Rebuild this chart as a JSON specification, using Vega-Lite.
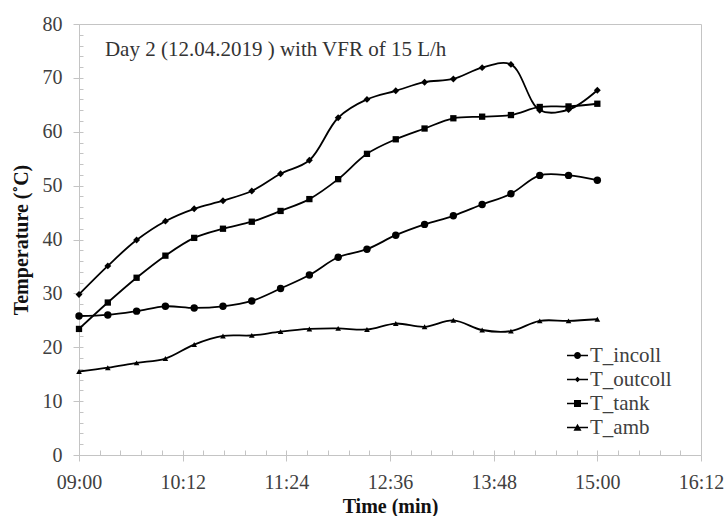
{
  "$schema": "https://vega.github.io/schema/vega-lite/v6.json",
  "width": 622,
  "height": 431,
  "autosize": {"type": "none"},
  "padding": {"left": 79, "top": 24, "right": 25, "bottom": 61},
  "background": "white",
  "config": {
    "view": {"stroke": "#c4c4c4", "strokeWidth": 1},
    "axis": {
      "labelFont": "Liberation Serif",
      "labelFontSize": 20,
      "labelFontWeight": "normal",
      "labelColor": "#404040",
      "titleFont": "Liberation Serif",
      "titleFontSize": 20,
      "titleFontWeight": "bold",
      "titleColor": "#111111",
      "domainColor": "#c4c4c4",
      "tickColor": "#c4c4c4",
      "grid": false
    }
  },
  "data": {
    "values": [
      {"time": "2019-04-12T09:00", "series": "T_incoll", "value": 25.8},
      {"time": "2019-04-12T09:20", "series": "T_incoll", "value": 26.0},
      {"time": "2019-04-12T09:40", "series": "T_incoll", "value": 26.7},
      {"time": "2019-04-12T10:00", "series": "T_incoll", "value": 27.6},
      {"time": "2019-04-12T10:20", "series": "T_incoll", "value": 27.3},
      {"time": "2019-04-12T10:40", "series": "T_incoll", "value": 27.6},
      {"time": "2019-04-12T11:00", "series": "T_incoll", "value": 28.6},
      {"time": "2019-04-12T11:20", "series": "T_incoll", "value": 30.9},
      {"time": "2019-04-12T11:40", "series": "T_incoll", "value": 33.4},
      {"time": "2019-04-12T12:00", "series": "T_incoll", "value": 36.7},
      {"time": "2019-04-12T12:20", "series": "T_incoll", "value": 38.2},
      {"time": "2019-04-12T12:40", "series": "T_incoll", "value": 40.8},
      {"time": "2019-04-12T13:00", "series": "T_incoll", "value": 42.8},
      {"time": "2019-04-12T13:20", "series": "T_incoll", "value": 44.4},
      {"time": "2019-04-12T13:40", "series": "T_incoll", "value": 46.5},
      {"time": "2019-04-12T14:00", "series": "T_incoll", "value": 48.5},
      {"time": "2019-04-12T14:20", "series": "T_incoll", "value": 51.9},
      {"time": "2019-04-12T14:40", "series": "T_incoll", "value": 51.9},
      {"time": "2019-04-12T15:00", "series": "T_incoll", "value": 51.0},
      {"time": "2019-04-12T09:00", "series": "T_outcoll", "value": 29.8},
      {"time": "2019-04-12T09:20", "series": "T_outcoll", "value": 35.1},
      {"time": "2019-04-12T09:40", "series": "T_outcoll", "value": 39.9},
      {"time": "2019-04-12T10:00", "series": "T_outcoll", "value": 43.4},
      {"time": "2019-04-12T10:20", "series": "T_outcoll", "value": 45.7},
      {"time": "2019-04-12T10:40", "series": "T_outcoll", "value": 47.2},
      {"time": "2019-04-12T11:00", "series": "T_outcoll", "value": 49.0},
      {"time": "2019-04-12T11:20", "series": "T_outcoll", "value": 52.2},
      {"time": "2019-04-12T11:40", "series": "T_outcoll", "value": 54.7},
      {"time": "2019-04-12T12:00", "series": "T_outcoll", "value": 62.6},
      {"time": "2019-04-12T12:20", "series": "T_outcoll", "value": 66.0},
      {"time": "2019-04-12T12:40", "series": "T_outcoll", "value": 67.6},
      {"time": "2019-04-12T13:00", "series": "T_outcoll", "value": 69.2},
      {"time": "2019-04-12T13:20", "series": "T_outcoll", "value": 69.8},
      {"time": "2019-04-12T13:40", "series": "T_outcoll", "value": 71.9},
      {"time": "2019-04-12T14:00", "series": "T_outcoll", "value": 72.5},
      {"time": "2019-04-12T14:20", "series": "T_outcoll", "value": 64.0},
      {"time": "2019-04-12T14:40", "series": "T_outcoll", "value": 64.1},
      {"time": "2019-04-12T15:00", "series": "T_outcoll", "value": 67.7},
      {"time": "2019-04-12T09:00", "series": "T_tank", "value": 23.4},
      {"time": "2019-04-12T09:20", "series": "T_tank", "value": 28.3},
      {"time": "2019-04-12T09:40", "series": "T_tank", "value": 32.9},
      {"time": "2019-04-12T10:00", "series": "T_tank", "value": 37.0},
      {"time": "2019-04-12T10:20", "series": "T_tank", "value": 40.3},
      {"time": "2019-04-12T10:40", "series": "T_tank", "value": 42.0},
      {"time": "2019-04-12T11:00", "series": "T_tank", "value": 43.3},
      {"time": "2019-04-12T11:20", "series": "T_tank", "value": 45.3},
      {"time": "2019-04-12T11:40", "series": "T_tank", "value": 47.5},
      {"time": "2019-04-12T12:00", "series": "T_tank", "value": 51.2},
      {"time": "2019-04-12T12:20", "series": "T_tank", "value": 55.9},
      {"time": "2019-04-12T12:40", "series": "T_tank", "value": 58.6},
      {"time": "2019-04-12T13:00", "series": "T_tank", "value": 60.6},
      {"time": "2019-04-12T13:20", "series": "T_tank", "value": 62.5},
      {"time": "2019-04-12T13:40", "series": "T_tank", "value": 62.8},
      {"time": "2019-04-12T14:00", "series": "T_tank", "value": 63.1},
      {"time": "2019-04-12T14:20", "series": "T_tank", "value": 64.6},
      {"time": "2019-04-12T14:40", "series": "T_tank", "value": 64.7},
      {"time": "2019-04-12T15:00", "series": "T_tank", "value": 65.2},
      {"time": "2019-04-12T09:00", "series": "T_amb", "value": 15.5},
      {"time": "2019-04-12T09:20", "series": "T_amb", "value": 16.2},
      {"time": "2019-04-12T09:40", "series": "T_amb", "value": 17.1},
      {"time": "2019-04-12T10:00", "series": "T_amb", "value": 17.9},
      {"time": "2019-04-12T10:20", "series": "T_amb", "value": 20.5},
      {"time": "2019-04-12T10:40", "series": "T_amb", "value": 22.1},
      {"time": "2019-04-12T11:00", "series": "T_amb", "value": 22.2},
      {"time": "2019-04-12T11:20", "series": "T_amb", "value": 22.9},
      {"time": "2019-04-12T11:40", "series": "T_amb", "value": 23.4},
      {"time": "2019-04-12T12:00", "series": "T_amb", "value": 23.5},
      {"time": "2019-04-12T12:20", "series": "T_amb", "value": 23.3},
      {"time": "2019-04-12T12:40", "series": "T_amb", "value": 24.4},
      {"time": "2019-04-12T13:00", "series": "T_amb", "value": 23.8},
      {"time": "2019-04-12T13:20", "series": "T_amb", "value": 25.0},
      {"time": "2019-04-12T13:40", "series": "T_amb", "value": 23.2},
      {"time": "2019-04-12T14:00", "series": "T_amb", "value": 23.0},
      {"time": "2019-04-12T14:20", "series": "T_amb", "value": 24.9},
      {"time": "2019-04-12T14:40", "series": "T_amb", "value": 24.9},
      {"time": "2019-04-12T15:00", "series": "T_amb", "value": 25.2}
    ]
  },
  "layer": [
    {
      "mark": {"type": "line", "interpolate": "catmull-rom", "color": "#000000", "strokeWidth": 1.8},
      "encoding": {
        "x": {
          "field": "time", "type": "temporal",
          "scale": {"domain": [{"year": 2019, "month": 4, "date": 12, "hours": 9, "minutes": 0}, {"year": 2019, "month": 4, "date": 12, "hours": 16, "minutes": 12}]},
          "axis": {
            "orient": "bottom",
            "title": "Time (min)",
            "format": "%H:%M",
            "values": [
              {"year": 2019, "month": 4, "date": 12, "hours": 9, "minutes": 0},
              {"year": 2019, "month": 4, "date": 12, "hours": 10, "minutes": 12},
              {"year": 2019, "month": 4, "date": 12, "hours": 11, "minutes": 24},
              {"year": 2019, "month": 4, "date": 12, "hours": 12, "minutes": 36},
              {"year": 2019, "month": 4, "date": 12, "hours": 13, "minutes": 48},
              {"year": 2019, "month": 4, "date": 12, "hours": 15, "minutes": 0},
              {"year": 2019, "month": 4, "date": 12, "hours": 16, "minutes": 12}
            ],
            "tickSize": 6,
            "labelPadding": 11,
            "titlePadding": 4,
            "labelFlush": false,
            "labelOverlap": false
          }
        },
        "y": {
          "field": "value", "type": "quantitative",
          "scale": {"domain": [0, 80], "nice": false},
          "axis": {
            "orient": "left",
            "title": "Temperature (˚C)",
            "values": [0, 10, 20, 30, 40, 50, 60, 70, 80],
            "tickSize": 6,
            "labelPadding": 11,
            "titlePadding": 11
          }
        },
        "detail": {"field": "series"}
      }
    },
    {
      "mark": {"type": "point", "filled": true, "color": "#000000", "opacity": 1},
      "encoding": {
        "x": {
          "field": "time", "type": "temporal",
          "axis": {
            "orient": "bottom",
            "title": null,
            "labels": false,
            "domain": false,
            "tickSize": -5,
            "values": [
              {"year": 2019, "month": 4, "date": 12, "hours": 9, "minutes": 14, "seconds": 24},
              {"year": 2019, "month": 4, "date": 12, "hours": 9, "minutes": 28, "seconds": 48},
              {"year": 2019, "month": 4, "date": 12, "hours": 9, "minutes": 43, "seconds": 12},
              {"year": 2019, "month": 4, "date": 12, "hours": 9, "minutes": 57, "seconds": 36},
              {"year": 2019, "month": 4, "date": 12, "hours": 10, "minutes": 12},
              {"year": 2019, "month": 4, "date": 12, "hours": 10, "minutes": 26, "seconds": 24},
              {"year": 2019, "month": 4, "date": 12, "hours": 10, "minutes": 40, "seconds": 48},
              {"year": 2019, "month": 4, "date": 12, "hours": 10, "minutes": 55, "seconds": 12},
              {"year": 2019, "month": 4, "date": 12, "hours": 11, "minutes": 9, "seconds": 36},
              {"year": 2019, "month": 4, "date": 12, "hours": 11, "minutes": 24},
              {"year": 2019, "month": 4, "date": 12, "hours": 11, "minutes": 38, "seconds": 24},
              {"year": 2019, "month": 4, "date": 12, "hours": 11, "minutes": 52, "seconds": 48},
              {"year": 2019, "month": 4, "date": 12, "hours": 12, "minutes": 7, "seconds": 12},
              {"year": 2019, "month": 4, "date": 12, "hours": 12, "minutes": 21, "seconds": 36},
              {"year": 2019, "month": 4, "date": 12, "hours": 12, "minutes": 36},
              {"year": 2019, "month": 4, "date": 12, "hours": 12, "minutes": 50, "seconds": 24},
              {"year": 2019, "month": 4, "date": 12, "hours": 13, "minutes": 4, "seconds": 48},
              {"year": 2019, "month": 4, "date": 12, "hours": 13, "minutes": 19, "seconds": 12},
              {"year": 2019, "month": 4, "date": 12, "hours": 13, "minutes": 33, "seconds": 36},
              {"year": 2019, "month": 4, "date": 12, "hours": 13, "minutes": 48},
              {"year": 2019, "month": 4, "date": 12, "hours": 14, "minutes": 2, "seconds": 24},
              {"year": 2019, "month": 4, "date": 12, "hours": 14, "minutes": 16, "seconds": 48},
              {"year": 2019, "month": 4, "date": 12, "hours": 14, "minutes": 31, "seconds": 12},
              {"year": 2019, "month": 4, "date": 12, "hours": 14, "minutes": 45, "seconds": 36},
              {"year": 2019, "month": 4, "date": 12, "hours": 15, "minutes": 0},
              {"year": 2019, "month": 4, "date": 12, "hours": 15, "minutes": 14, "seconds": 24},
              {"year": 2019, "month": 4, "date": 12, "hours": 15, "minutes": 28, "seconds": 48},
              {"year": 2019, "month": 4, "date": 12, "hours": 15, "minutes": 43, "seconds": 12},
              {"year": 2019, "month": 4, "date": 12, "hours": 15, "minutes": 57, "seconds": 36}
            ]
          }
        },
        "y": {
          "field": "value", "type": "quantitative",
          "axis": {
            "orient": "left",
            "title": null,
            "labels": false,
            "domain": false,
            "tickSize": -4,
            "values": [2, 4, 6, 8, 10, 12, 14, 16, 18, 20, 22, 24, 26, 28, 30, 32, 34, 36, 38, 40, 42, 44, 46, 48, 50, 52, 54, 56, 58, 60, 62, 64, 66, 68, 70, 72, 74, 76, 78]
          }
        },
        "shape": {
          "field": "series", "type": "nominal",
          "scale": {"domain": ["T_incoll", "T_outcoll", "T_tank", "T_amb"], "range": ["circle", "diamond", "square", "triangle-up"]},
          "legend": null
        },
        "size": {
          "field": "series", "type": "nominal",
          "scale": {"domain": ["T_incoll", "T_outcoll", "T_tank", "T_amb"], "range": [55, 32, 55, 55]},
          "legend": null
        }
      }
    },
    {
      "transform": [{"filter": "false"}],
      "mark": {"type": "point", "filled": true, "color": "#000000"},
      "encoding": {
        "x": {"field": "time", "type": "temporal", "axis": null},
        "y": {"field": "value", "type": "quantitative", "axis": null},
        "shape": {
          "field": "series", "type": "nominal",
          "scale": {
            "domain": ["T_incoll", "T_outcoll", "T_tank", "T_amb"],
            "range": [
              "M-3,-0.22L3,-0.22L3,0.22L-3,0.22ZM-1,0A1,1,0,1,1,1,0A1,1,0,1,1,-1,0Z",
              "M-3,-0.22L3,-0.22L3,0.22L-3,0.22ZM0,-0.8L0.8,0L0,0.8L-0.8,0Z",
              "M-3,-0.22L3,-0.22L3,0.22L-3,0.22ZM-1,-1L1,-1L1,1L-1,1Z",
              "M-3,-0.22L3,-0.22L3,0.22L-3,0.22ZM0,-1.1L1.15,0.9L-1.15,0.9Z"
            ]
          },
          "legend": {
            "title": null,
            "orient": "none",
            "legendX": 488,
            "legendY": 321,
            "padding": 0,
            "symbolSize": 49,
            "symbolFillColor": "#000000",
            "symbolStrokeWidth": 0,
            "symbolOpacity": 1,
            "labelFont": "Liberation Serif",
            "labelFontSize": 21,
            "labelColor": "#404040",
            "labelOffset": 2,
            "rowPadding": 2
          }
        }
      }
    },
    {
      "data": {"values": [{"note": "Day 2 (12.04.2019 ) with VFR of 15 L/h"}]},
      "mark": {"type": "text", "align": "left", "baseline": "alphabetic", "font": "Liberation Serif", "fontSize": 21, "color": "#333333"},
      "encoding": {
        "x": {"datum": {"year": 2019, "month": 4, "date": 12, "hours": 9, "minutes": 18}, "type": "temporal", "axis": null},
        "y": {"datum": 74, "type": "quantitative", "axis": null},
        "text": {"field": "note"}
      }
    }
  ],
  "resolve": {
    "scale": {"shape": "independent", "size": "independent"},
    "axis": {"x": "independent", "y": "independent"}
  }
}
